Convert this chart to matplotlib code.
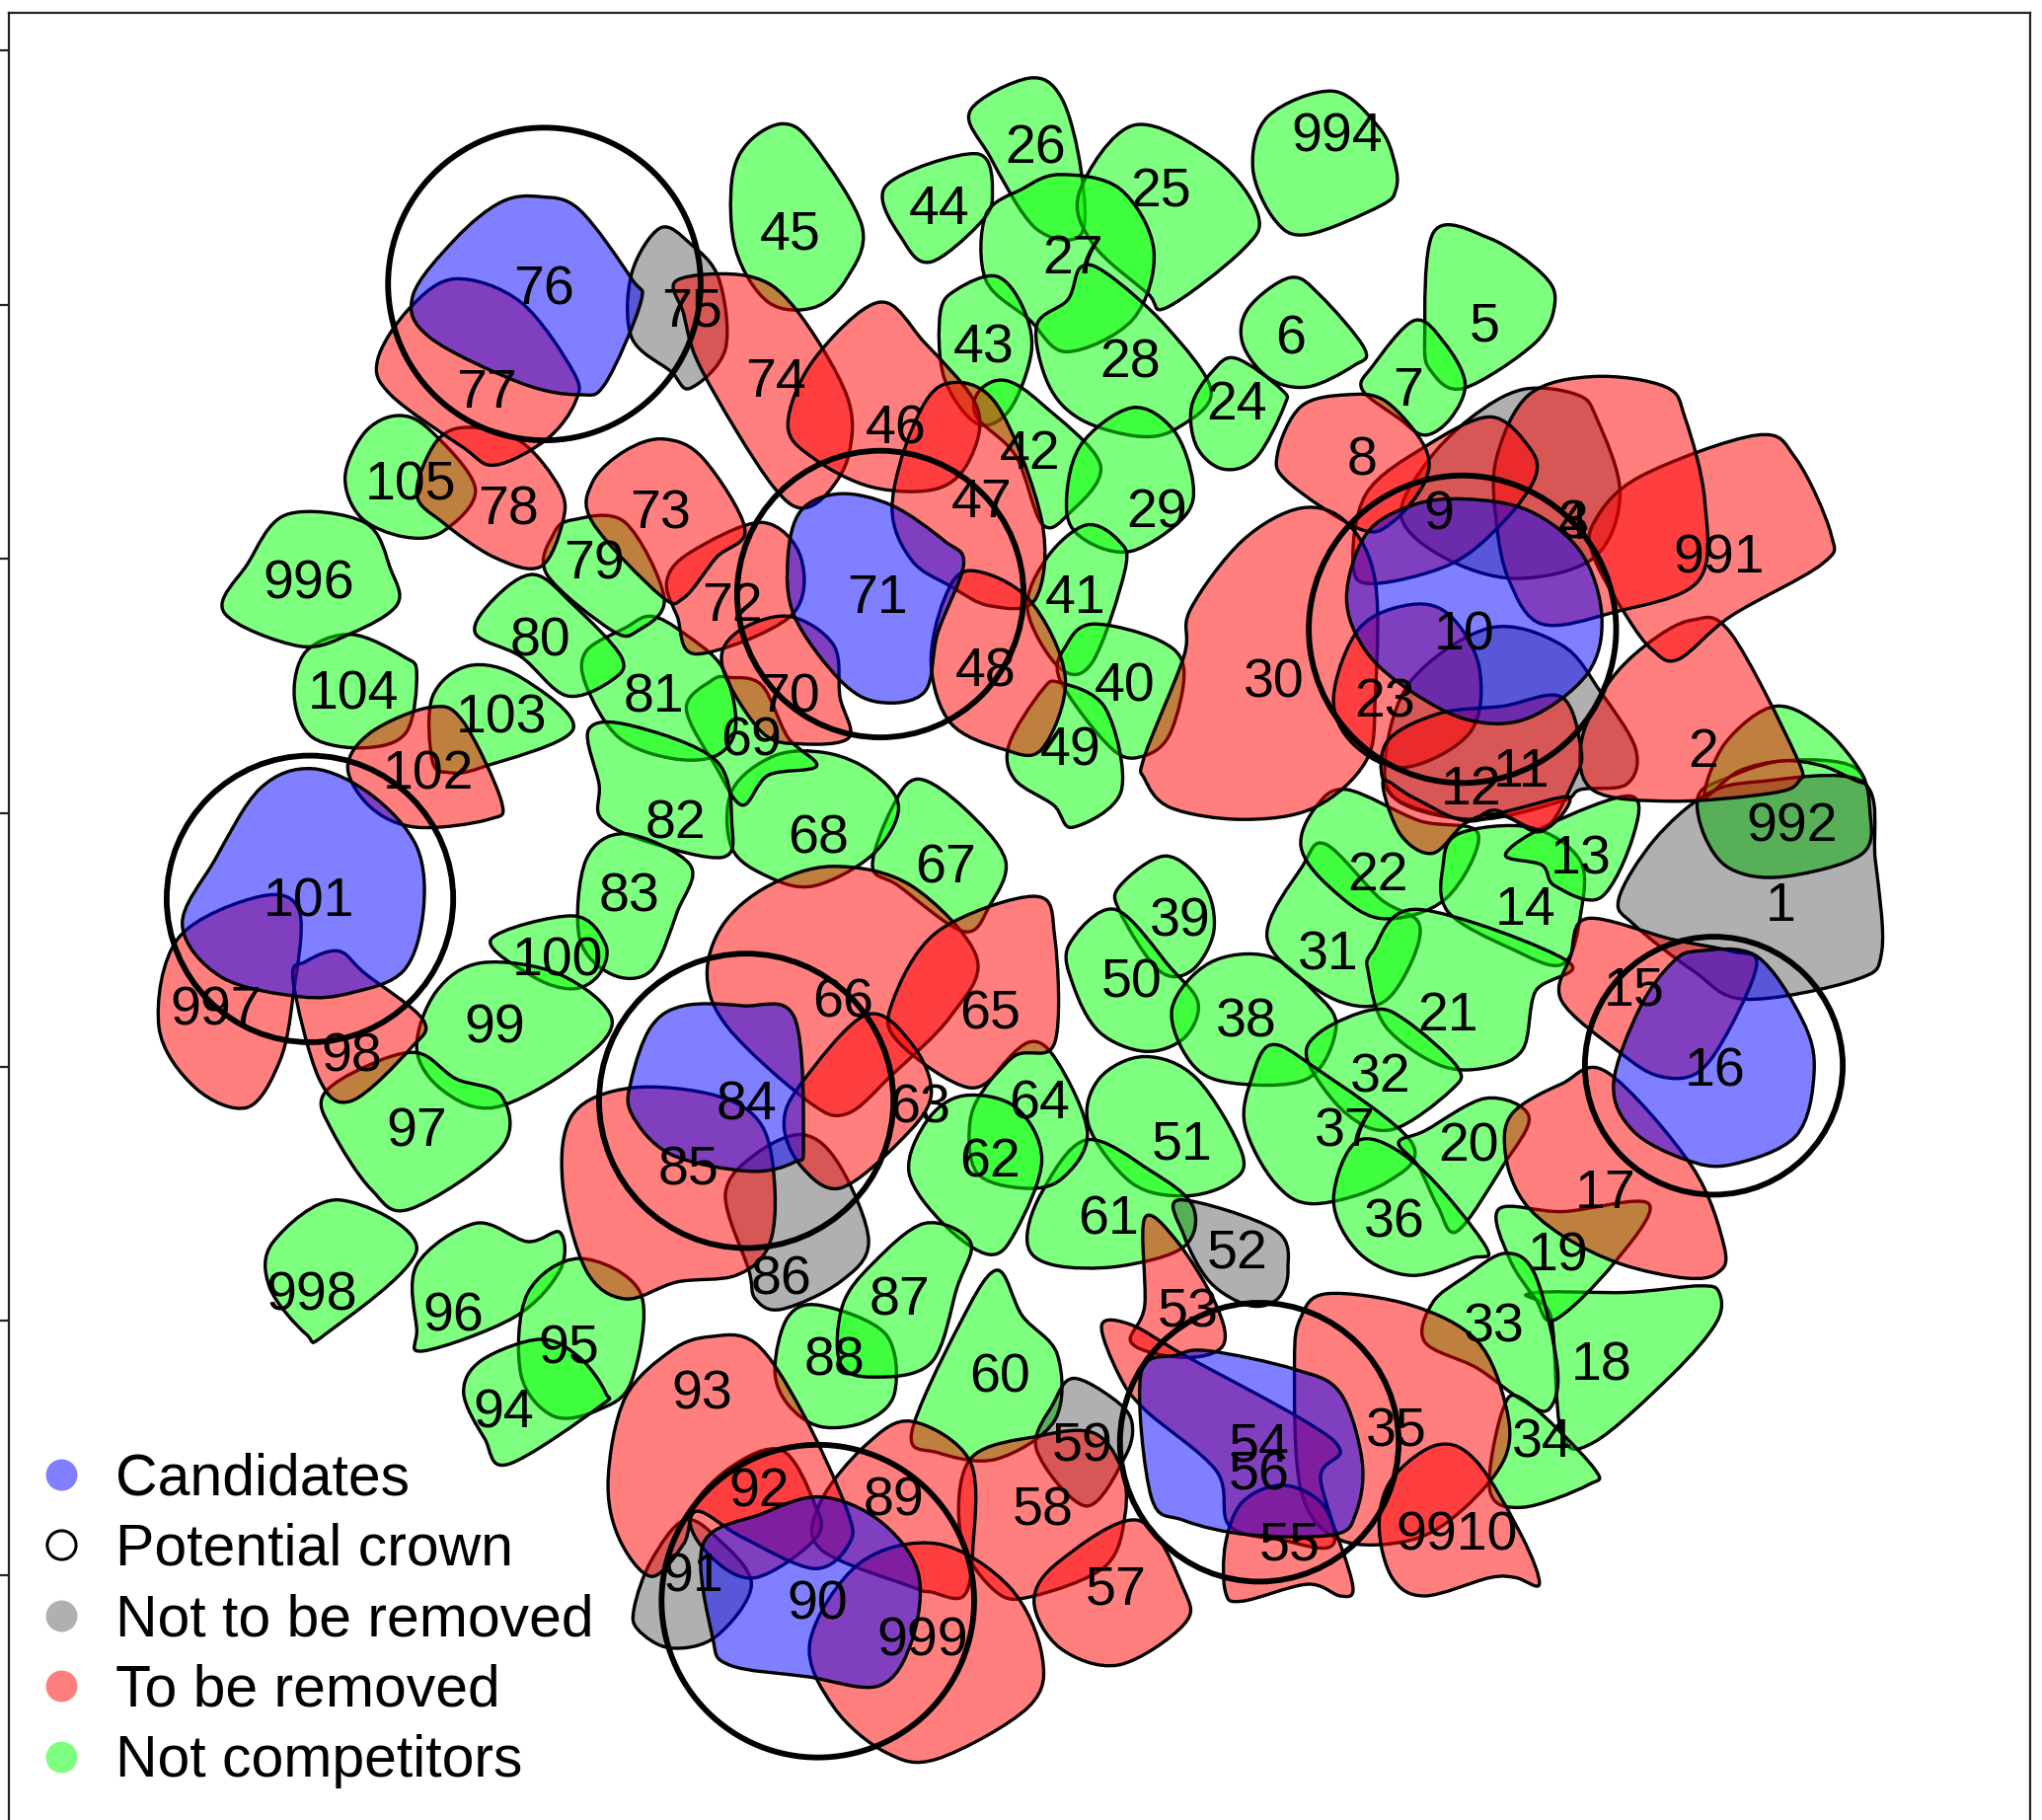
import numpy as np
import matplotlib
matplotlib.use("Agg")
import matplotlib.pyplot as plt
from matplotlib.lines import Line2D
from matplotlib.patches import Circle, PathPatch
from matplotlib.path import Path

plt.rcParams['font.family'] = ['Liberation Sans', 'DejaVu Sans']

# crown outlines
green_crowns = [
    [(602,95),(625,112),(662,174),(650,214),(625,236),(590,232),(565,192),(562,138),(575,109)],  # 45
    [(680,143),(750,118),(762,152),(750,174),(715,201),(695,187)],  # 44
    [(745,85),(790,60),(815,75),(830,130),(830,180),(795,175),(760,120)],  # 26
    [(871,96),(934,123),(966,165),(954,192),(896,236),(881,225),(839,187),(829,147)],  # 25
    [(814,134),(860,145),(886,192),(870,245),(819,270),(790,245),(757,215),(757,165),(785,145)],  # 27
    [(930,300),(905,328),(875,335),(830,322),(805,295),(796,250),(820,230),(830,205),(850,210),(895,250)],  # 28
    [(949,275),(984,299),(986,312),(964,352),(939,360),(919,343),(915,312),(931,285)],  # 24
    [(991,213),(1014,227),(1048,268),(1039,281),(1004,297),(974,290),(954,263),(959,236)],  # 6
    [(1024,70),(1059,98),(1071,125),(1072,145),(1060,158),(1004,180),(979,169),(962,129),(974,89)],  # 994
    [(1101,178),(1144,183),(1184,210),(1194,232),(1179,263),(1124,298),(1099,285),(1094,259)],  # 5
    [(1086,246),(1109,263),(1125,294),(1114,321),(1094,334),(1074,321),(1046,299),(1054,281)],  # 7
    [(765,212),(785,235),(792,270),(775,315),(750,325),(725,290),(722,240),(735,222)],  # 43
    [(772,292),(800,310),(845,357),(820,395),(800,402),(780,350),(750,320),(752,300)],  # 42
    [(869,313),(901,330),(916,370),(909,397),(869,423),(834,415),(819,392),(829,343)],  # 29
    [(834,403),(859,415),(864,437),(839,508),(814,513),(789,468),(804,428)],  # 41
    [(839,479),(889,491),(909,513),(899,562),(879,580),(854,575),(814,522),(819,495)],  # 40
    [(814,524),(849,544),(861,607),(824,635),(809,618),(779,598),(775,571),(800,530)],  # 49
    [(895,657),(925,680),(932,715),(915,745),(890,745),(860,700),(860,680)],  # 39
    [(821,725),(856,698),(899,743),(920,770),(909,797),(879,807),(844,792),(824,756)],  # 50
    [(929,739),(974,734),(1009,761),(1026,788),(1004,828),(944,831),(914,815),(900,774)],  # 38
    [(973,720),(1000,665),(1018,648),(1060,690),(1090,710),(1078,750),(1055,772),(1015,762)],  # 31
    [(999,650),(1010,620),(1034,606),(1090,630),(1135,640),(1110,690),(1060,705),(1020,680)],  # 22
    [(1120,640),(1175,635),(1213,660),(1214,700),(1200,740),(1160,728),(1112,700),(1108,665)],  # 14
    [(1156,656),(1189,633),(1252,611),(1254,642),(1229,689),(1194,680),(1184,664)],  # 13
    [(1054,730),(1089,698),(1204,738),(1179,761),(1169,806),(1139,820),(1104,817),(1064,788),(1051,748)],  # 21
    [(1054,775),(1079,783),(1119,819),(1114,837),(1069,867),(1034,855),(1004,814),(1014,792)],  # 32
    [(976,802),(1009,819),(1084,877),(1064,908),(1009,924),(979,908),(956,864),(961,828)],  # 37
    [(1141,843),(1174,857),(1154,895),(1119,945),(1104,926),(1089,895),(1074,877),(1094,868)],  # 20
    [(1044,875),(1089,895),(1141,957),(1129,966),(1084,979),(1044,962),(1024,921)],  # 36
    [(879,811),(919,828),(954,886),(944,908),(909,918),(869,908),(836,864),(844,828)],  # 51
    [(834,875),(884,899),(916,926),(909,957),(859,972),(809,971),(789,955),(799,917)],  # 61
    [(760,830),(790,800),(812,815),(835,870),(815,905),(785,912),(750,900),(745,860)],  # 64
    [(740,841),(780,850),(800,890),(780,945),(760,963),(725,940),(698,900),(712,860)],  # 62
    [(705,598),(740,620),(772,660),(760,695),(740,715),(690,680),(670,665),(685,620)],  # 67
    [(635,578),(670,593),(690,620),(670,656),(625,680),(590,673),(562,651),(562,607),(595,580)],  # 68
    [(547,522),(560,520),(585,526),(605,566),(627,588),(590,595),(570,618),(550,589),(527,544)],  # 69
    [(500,473),(525,486),(555,513),(565,557),(550,580),(515,582),(475,566),(450,526),(450,500),(480,482)],  # 81
    [(440,399),(480,401),(510,459),(490,484),(470,484),(420,441),(425,410)],  # 79
    [(410,441),(440,464),(477,504),(470,522),(435,534),(400,504),(365,486),(380,459)],  # 80
    [(452,560),(485,557),(550,584),(562,633),(555,658),(500,647),(462,629),(460,602)],  # 82
    [(480,640),(530,664),(520,700),(500,745),(470,748),(445,720),(450,660)],  # 83
    [(377,721),(440,703),(465,725),(460,748),(440,759),(410,750)],  # 100
    [(370,739),(430,748),(470,783),(440,819),(380,850),(340,837),(320,805),(335,761)],  # 99
    [(320,808),(350,828),(385,841),(385,881),(315,928),(285,913),(255,868),(248,841),(280,819)],  # 97
    [(260,921),(320,959),(250,1024),(235,1024),(207,988),(210,953)],  # 998
    [(365,939),(405,953),(430,946),(430,975),(395,1011),(325,1037),(320,1020),(320,971)],  # 96
    [(445,966),(492,993),(485,1060),(460,1082),(425,1087),(400,1055),(405,993)],  # 95
    [(415,1028),(445,1042),(465,1069),(460,1080),(390,1124),(372,1104),(356,1069),(370,1044)],  # 94
    [(630,1002),(680,1024),(687,1069),(665,1091),(630,1095),(605,1078),(595,1051),(605,1011)],  # 88
    [(710,939),(745,953),(735,988),(715,1046),(670,1057),(645,1046),(647,1002),(670,970)],  # 87
    [(765,975),(785,1010),(812,1040),(810,1090),(765,1120),(720,1115),(700,1100),(735,1020)],  # 60
    [(270,487),(310,504),(320,517),(312,562),(280,574),(240,566),(226,535),(235,500)],  # 104
    [(360,511),(400,520),(440,560),(370,589),(345,593),(332,584),(332,535)],  # 103
    [(305,319),(330,330),(365,375),(340,408),(310,412),(277,397),(265,366),(280,332)],  # 105
    [(220,395),(280,401),(300,437),(305,464),(270,486),(230,496),(172,470),(190,433)],  # 996
    [(1174,993),(1250,992),(1305,987),(1320,992),(1318,1015),(1284,1055),(1224,1107),(1199,1100),(1191,1011)],  # 18
    [(1151,928),(1200,930),(1266,924),(1239,970),(1194,1013),(1179,997),(1159,966)],  # 19
    [(1156,962),(1179,979),(1196,1051),(1189,1082),(1169,1075),(1134,1050),(1094,1030),(1100,1000),(1125,980)],  # 33
    [(1171,1075),(1224,1127),(1219,1140),(1169,1157),(1144,1144),(1154,1082)],  # 34
    [(1369,584),(1424,589),(1436,624),(1429,656),(1369,673),(1329,667),(1309,642),(1304,611),(1324,598)],  # 992
    [(1364,542),(1404,562),(1432,600),(1400,588),(1369,584),(1335,592),(1309,611),(1325,570)],  # no label
]

gray_crowns = [
    [(906,921),(979,944),(989,975),(981,997),(959,1002),(929,984),(909,948)],  # 52
    [(824,1058),(854,1073),(869,1091),(864,1118),(834,1156),(796,1113),(809,1077)],  # 59
    [(1243,690),(1270,645),(1310,610),(1350,600),(1430,600),(1440,660),(1445,730),(1425,752),(1340,767),(1300,745),(1255,710)],  # 1
    [(507,175),(530,187),(552,214),(557,268),(530,298),(515,285),(485,259),(485,210)],  # 75
    [(557,917),(580,886),(617,871),(645,895),(667,953),(645,984),(600,1005),(580,997),(575,975)],  # 86
    [(525,1167),(550,1180),(577,1216),(550,1256),(515,1265),(490,1251),(487,1234),(500,1198)],  # 91
    [(1129,321),(1169,299),(1211,303),(1226,321),(1244,379),(1224,428),(1164,444),(1109,428),(1076,397),(1094,357)],  # 4
    [(1064,580),(1084,522),(1144,482),(1199,495),(1229,531),(1256,575),(1249,602),(1214,606),(1199,615),(1134,629),(1074,615)],  # 11 under
]

red_crowns = [
    [(1299,476),(1329,486),(1379,580),(1381,600),(1359,609),(1284,615),(1224,607),(1214,571),(1234,526),(1264,495)],  # 2
    [(1349,334),(1379,352),(1406,410),(1399,433),(1329,473),(1289,506),(1269,499),(1249,473),(1224,428),(1224,401),(1259,366)],  # 991
    [(1224,289),(1279,297),(1294,321),(1309,384),(1304,446),(1239,470),(1184,479),(1159,446),(1149,401),(1149,352),(1174,303)],  # 3
    [(1144,320),(1174,343),(1179,366),(1154,401),(1114,433),(1054,448),(1039,433),(1049,379),(1094,343)],  # 9
    [(1034,303),(1064,308),(1094,343),(1094,370),(1069,401),(1044,406),(989,370),(981,348),(999,312)],  # 8
    [(999,390),(1034,401),(1056,446),(1056,535),(1049,584),(1009,620),(954,629),(899,620),(879,598),(879,580),(909,504),(914,468),(954,415)],  # 30
    [(1084,464),(1114,473),(1136,513),(1129,562),(1079,589),(1039,571),(1024,535),(1044,482)],  # 23
    [(1064,571),(1104,548),(1154,542),(1199,535),(1214,575),(1209,598),(1184,638),(1149,622),(1124,629),(1069,611)],  # 11
    [(1062,600),(1085,612),(1125,630),(1160,622),(1205,612),(1185,637),(1150,625),(1125,632),(1100,655),(1075,640)],  # 12
    [(1219,705),(1284,721),(1329,730),(1349,739),(1329,788),(1304,823),(1274,826),(1244,808),(1199,768),(1206,734)],  # 15
    [(1234,823),(1299,895),(1324,957),(1319,977),(1294,981),(1244,970),(1199,948),(1169,921),(1156,886),(1161,855),(1199,832)],  # 17
    [(1019,993),(1084,1002),(1134,1029),(1156,1078),(1156,1118),(1124,1158),(1084,1182),(1029,1182),(999,1144),(994,1046),(999,1011)],  # 35
    [(1104,1109),(1134,1122),(1169,1180),(1182,1216),(1164,1211),(1144,1211),(1094,1225),(1069,1211),(1059,1171),(1069,1135)],  # 9910
    [(879,935),(904,953),(934,1002),(939,1033),(909,1042),(869,1031),(879,1002)],  # 53
    [(846,1017),(869,1017),(909,1040),(999,1089),(1029,1113),(1014,1133),(1024,1185),(984,1182),(944,1171),(934,1129),(879,1082),(859,1055)],  # 56
    [(984,1140),(1014,1153),(1029,1185),(1039,1220),(1029,1225),(1004,1216),(954,1229),(941,1222),(941,1185),(954,1153)],  # 55
    [(745,1120),(799,1102),(840,1100),(861,1127),(864,1162),(849,1202),(794,1225),(765,1222),(738,1180)],  # 58
    [(874,1167),(909,1220),(909,1247),(859,1278),(814,1265),(794,1229),(814,1198)],  # 57
    [(700,1091),(745,1122),(747,1189),(740,1225),(715,1222),(700,1218),(630,1189),(630,1153),(665,1109)],  # 89
    [(720,1185),(775,1218),(800,1270),(790,1310),(720,1350),(680,1345),(640,1310),(622,1260),(660,1200)],  # 999
    [(600,1113),(625,1153),(627,1180),(580,1211),(545,1194),(530,1162),(560,1127)],  # 92
    [(545,1026),(580,1031),(615,1082),(650,1158),(652,1185),(625,1204),(570,1180),(535,1160),(525,1185),(500,1210),(475,1180),(467,1135),(480,1073),(515,1037)],  # 93
    [(640,665),(700,680),(750,735),(730,780),(685,825),(650,855),(620,845),(560,790),(543,750),(555,710),(590,680)],  # 66
    [(795,688),(810,720),(810,800),(780,810),(745,835),(690,800),(685,770),(720,715)],  # 65
    [(665,779),(700,801),(715,841),(690,877),(645,912),(615,895),(602,863),(615,832)],  # 63
    [(485,835),(550,841),(585,864),(595,913),(590,957),(565,979),(520,984),(480,997),(450,975),(432,908),(440,855)],  # 85
    [(520,215),(575,212),(610,236),(650,303),(652,348),(635,379),(615,390),(595,375),(565,330),(535,276),(525,241)],  # 74
    [(675,232),(710,263),(750,312),(745,352),(720,375),(670,374),(625,352),(605,326),(625,276)],  # 46
    [(725,295),(765,310),(800,400),(795,460),(760,465),(730,450),(700,430),(685,390),(700,330)],  # 47
    [(745,438),(790,460),(818,520),(800,575),(770,575),(730,555),(715,510),(725,460)],  # 48
    [(585,401),(615,428),(607,473),(535,502),(520,473),(512,446),(530,424)],  # 72
    [(510,337),(540,352),(572,406),(550,428),(525,459),(507,457),(455,401),(455,370),(480,346)],  # 73
    [(605,473),(640,495),(645,535),(652,566),(615,571),(585,562),(555,513),(565,486)],  # 70
    [(360,328),(400,339),(430,375),(432,401),(415,435),(380,428),(340,401),(320,379),(335,339)],  # 78
    [(350,214),(400,232),(440,285),(442,308),(420,337),(380,357),(355,343),(300,303),(290,276),(315,236)],  # 77
    [(330,543),(355,553),(385,615),(375,629),(320,635),(285,620),(267,589),(285,562)],  # 102
    [(137,720),(200,688),(230,700),(225,765),(215,814),(190,850),(150,835),(122,788)],  # 997
    [(260,730),(280,747),(325,783),(315,805),(270,845),(245,828),(225,752),(235,738)],  # 98
]

blue_crowns = [
    [(630,1149),(675,1167),(705,1207),(700,1260),(675,1294),(620,1287),(560,1278),(547,1256),(540,1185),(585,1162)],  # 90
    [(525,772),(570,772),(610,781),(617,877),(610,892),(575,899),(515,886),(485,855),(485,828),(500,788)],  # 84
    [(385,155),(415,151),(445,161),(485,214),(492,232),(465,294),(445,303),(400,294),(330,259),(317,227),(350,183)],  # 76
    [(240,590),(285,610),(320,650),(325,700),(310,745),(270,762),(230,765),(170,750),(140,710),(165,660),(200,605)],  # 101
    [(645,379),(685,388),(725,415),(740,433),(720,486),(710,531),(675,539),(645,522),(610,473),(605,428),(615,392)],  # 71
    [(1124,383),(1174,392),(1214,424),(1230,473),(1219,517),(1174,551),(1129,553),(1084,531),(1049,500),(1034,459),(1049,410),(1084,388)],  # 10
    [(1304,730),(1349,734),(1384,783),(1393,823),(1379,872),(1329,894),(1294,890),(1254,868),(1239,832),(1259,774),(1284,739)],  # 16
    [(929,1037),(994,1051),(1029,1069),(1046,1122),(1041,1162),(1024,1178),(959,1178),(909,1167),(884,1149),(876,1055),(904,1040)],  # 54
]

circle_x = [418, 676, 1123, 238, 573, 1316, 628, 967]
circle_y = [218, 456, 483, 690, 845, 818, 1229, 1107]
circle_r = [120, 110, 118, 110, 113, 99, 120, 107]

label_names = ['1', '2', '3', '4', '5', '6', '7', '8', '9', '10', '11', '12', '13', '14', '15', '16', '17', '18',
               '19', '20', '21', '22', '23', '24', '25', '26', '27', '28', '29', '30', '31', '32', '33', '34', '35',
               '36', '37', '38', '39', '40', '41', '42', '43', '44', '45', '46', '47', '48', '49', '50', '51', '52',
               '53', '54', '55', '56', '57', '58', '59', '60', '61', '62', '63', '64', '65', '66', '67', '68', '69',
               '70', '71', '72', '73', '74', '75', '76', '77', '78', '79', '80', '81', '82', '83', '84', '85', '86',
               '87', '88', '89', '90', '91', '92', '93', '94', '95', '96', '97', '98', '99', '100', '101', '102',
               '103', '104', '105', '991', '992', '994', '996', '997', '998', '999', '9910']
label_x = [1367, 1308, 1208, 1208, 1140, 991, 1081, 1046, 1105, 1124, 1168, 1130, 1214, 1171, 1255, 1317, 1233, 1230,
           1196, 1128, 1112, 1058, 1063, 950, 891, 795, 824, 868, 888, 978, 1020, 1060, 1147, 1184, 1072,
           1071, 1033, 957, 906, 864, 826, 791, 755, 721, 607, 688, 754, 757, 822, 869, 908, 950,
           912, 967, 990, 967, 857, 801, 831, 768, 851, 760, 706, 798, 760, 647, 726, 628, 577,
           606, 674, 562, 507, 596, 531, 418, 374, 390, 456, 415, 502, 519, 483, 573, 529, 600,
           691, 641, 686, 628, 532, 583, 539, 387, 437, 348, 320, 270, 380, 428, 237, 329,
           385, 271, 315, 1320, 1376, 1027, 237, 166, 239, 708, 1119]
label_y = [693, 575, 400, 400, 248, 258, 298, 351, 393, 485, 590, 604, 657, 696, 758, 820, 914, 1046,
           962, 878, 777, 670, 537, 308, 145, 112, 196, 276, 391, 522, 731, 825, 1016, 1105, 1097,
           936, 866, 782, 705, 525, 457, 346, 265, 158, 178, 327, 383, 513, 574, 752, 876, 960,
           1005, 1108, 1184, 1130, 1218, 1157, 1108, 1055, 934, 890, 848, 845, 776, 767, 664, 641, 566,
           533, 457, 463, 392, 291, 237, 220, 299, 389, 431, 490, 533, 630, 686, 846, 896, 980,
           996, 1042, 1150, 1229, 1208, 1143, 1068, 1082, 1033, 1008, 866, 809, 787, 735, 690, 592,
           549, 531, 370, 426, 632, 103, 446, 773, 992, 1257, 1176]

y_ticks = [39, 234, 429, 624, 819, 1014, 1209]
legend_labels = ['Candidates', 'Potential crown', 'Not to be removed', 'To be removed', 'Not competitors']

BLUE = (0, 0, 1, 0.5)
RED = (1, 0, 0, 0.5)
GREEN = (0, 1, 0, 0.5)
GRAY = (0, 0, 0, 0.31)


def smooth_path(points):
    # closed curve through the outline points
    p = np.array(points, dtype=float)
    n = len(p)
    verts = [p[0]]
    codes = [Path.MOVETO]
    for i in range(n):
        a, b, c, d = p[i - 1], p[i], p[(i + 1) % n], p[(i + 2) % n]
        verts += [b + (c - a) / 6, c - (d - b) / 6, c]
        codes += [Path.CURVE4] * 3
    return Path(verts, codes)


fig = plt.figure(figsize=(20.69, 18.44), dpi=100)
x0, x1, y_top, y_bot = 7, 1559, 10, 1425
ax = fig.add_axes([x0 / 1568, 1 - y_bot / 1397, (x1 - x0) / 1568, (y_bot - y_top) / 1397])
ax.set_xlim(x0, x1)
ax.set_ylim(y_bot, y_top)
ax.set_xticks([])
ax.set_yticks(y_ticks)
ax.set_yticklabels([])
ax.tick_params(axis='y', length=6.5, width=1.6, color='#222222')
for s in ax.spines.values():
    s.set_linewidth(1.6)
    s.set_color('#222222')

# same drawing order as the overlaps show
for crowns, col in [(green_crowns, GREEN), (gray_crowns, GRAY), (red_crowns, RED), (blue_crowns, BLUE)]:
    for pts in crowns:
        ax.add_patch(PathPatch(smooth_path(pts), facecolor=col, edgecolor='black', linewidth=2.4))

for x, y, r in zip(circle_x, circle_y, circle_r):
    ax.add_patch(Circle((x, y), r, fill=False, edgecolor='black', linewidth=4.2))

for name, x, y in zip(label_names, label_x, label_y):
    ax.text(x, y + 3, name, ha='center', va='center', fontsize=40, color='black')

handles = [
    Line2D([], [], ls='', marker='o', ms=23, mfc=BLUE, mec='none'),
    Line2D([], [], ls='', marker='o', ms=21, mfc='white', mec='black', mew=2.2),
    Line2D([], [], ls='', marker='o', ms=23, mfc=GRAY, mec='none'),
    Line2D([], [], ls='', marker='o', ms=23, mfc=RED, mec='none'),
    Line2D([], [], ls='', marker='o', ms=23, mfc=GREEN, mec='none'),
]
ax.legend(handles, legend_labels, loc='lower left', bbox_to_anchor=(25, 1373), bbox_transform=ax.transData,
          frameon=False, fontsize=42.4, handletextpad=0.43, labelspacing=0.28, borderpad=0, borderaxespad=0,
          handlelength=1.0)

fig.savefig('out.png', dpi=100)
